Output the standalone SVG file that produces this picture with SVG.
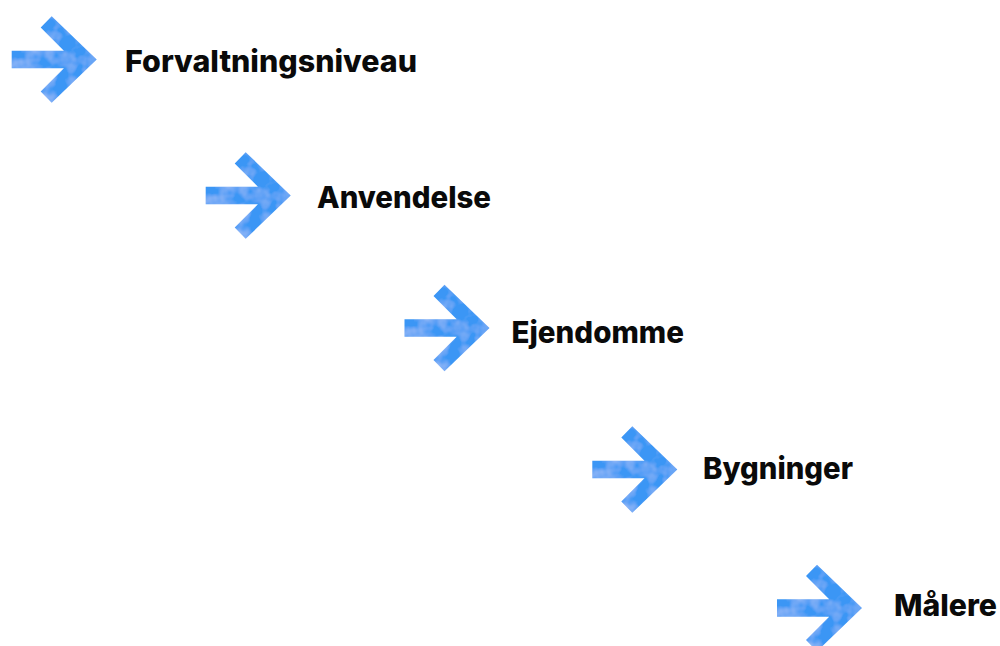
<svg xmlns="http://www.w3.org/2000/svg" width="1000" height="646" viewBox="0 0 1000 646">
<style>
.lbl{font-family:Inter,"Liberation Sans",sans-serif;font-weight:800;font-size:30px;fill:#0a0a0a}
.arr{fill:#3b96f5;filter:url(#tex)}
</style>
<defs>
<filter id="tex" x="-5%" y="-5%" width="110%" height="110%">
<feTurbulence type="fractalNoise" baseFrequency="0.05" numOctaves="3" seed="4" result="n"/>
<feColorMatrix in="n" type="matrix" values="0 0 0 0 1 0 0 0 0 1 0 0 0 0 1 0 0 0 0.7 -0.28" result="w"/>
<feComposite in="w" in2="SourceGraphic" operator="in" result="wm"/>
<feMerge><feMergeNode in="SourceGraphic"/><feMergeNode in="wm"/></feMerge>
</filter>
<polygon id="a" points="-85,-8.8 -32.8,-8.8 -56,-32 -45,-43.3 0,0 -45,43.3 -56,32 -32.8,8.8 -85,8.8"/>
</defs>
<rect width="1000" height="646" fill="#ffffff"/>
<g id="connectors"></g>
<g id="n1"><use href="#a" class="arr" transform="translate(96.7,59.5)"/><text class="lbl" x="125" y="72" textLength="292" lengthAdjust="spacingAndGlyphs">Forvaltningsniveau</text></g>
<g id="n2"><use href="#a" class="arr" transform="translate(290.7,195.5)"/><text class="lbl" x="317" y="207.5" textLength="174" lengthAdjust="spacingAndGlyphs">Anvendelse</text></g>
<g id="n3"><use href="#a" class="arr" transform="translate(489.5,328)"/><text class="lbl" x="511.5" y="342.5" textLength="172.5" lengthAdjust="spacingAndGlyphs">Ejendomme</text></g>
<g id="n4"><use href="#a" class="arr" transform="translate(677.3,469.5)"/><text class="lbl" x="703" y="478.5" textLength="150" lengthAdjust="spacingAndGlyphs">Bygninger</text></g>
<g id="n5"><use href="#a" class="arr" transform="translate(862,608)"/><text class="lbl" x="894" y="616" textLength="103" lengthAdjust="spacingAndGlyphs">Målere</text></g>
</svg>
